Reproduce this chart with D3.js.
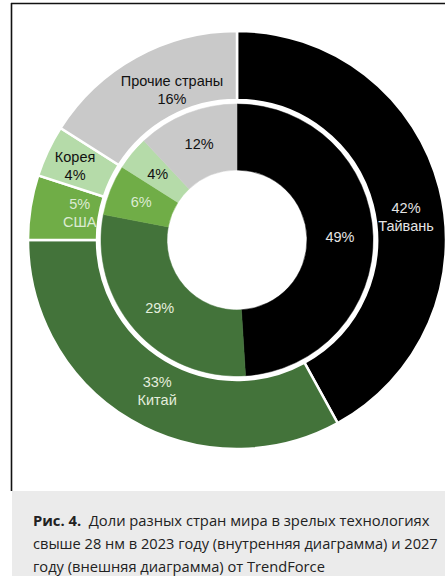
<!DOCTYPE html>
<meta charset="utf-8">
<style>
body { margin: 0; background: #fff; }
svg text { font-family: "Liberation Sans", Arial, sans-serif; }
.caption text { font-family: "Open Sans", "Noto Sans", sans-serif; fill: #222; }
</style>
<svg width="445" height="576"></svg>
<script src="https://d3js.org/d3.v7.min.js"></script>
<script>

var countries = ["Тайвань", "Китай", "США", "Корея", "Прочие страны"];
var share2023 = [49, 29, 6, 4, 12];   // inner ring
var share2027 = [42, 33, 5, 4, 16];   // outer ring
var captionLines = [
  ["Рис. 4.", "\u00a0\u00a0Доли разных стран мира в зрелых технологиях"],
  ["", "свыше 28 нм в 2023 году (внутренняя диаграмма) и 2027"],
  ["", "году (внешняя диаграмма) от TrendForce"]
];

var svg = d3.select("svg"),
    width = +svg.attr("width"),
    height = +svg.attr("height");

var cx = 237, cy = 240;

var color = d3.scaleOrdinal()
    .domain(countries)
    .range(["#000000", "#43733a", "#70ad47", "#b5dba9", "#c9c9c9"]);

var textColor = d3.scaleOrdinal()
    .domain(countries)
    .range(["#e4e4e4", "#e4eedd", "#dcebd3", "#111111", "#111111"]);

// frame
svg.append("line")
    .attr("x1", 11.5).attr("y1", 3).attr("x2", 11.5).attr("y2", 491)
    .attr("stroke", "#111").attr("stroke-width", 1.6);
svg.append("line")
    .attr("x1", 11).attr("y1", 3.5).attr("x2", width).attr("y2", 3.5)
    .attr("stroke", "#111").attr("stroke-width", 1.6);

var pie = d3.pie().sort(null).value(function(d) { return d; });

var innerArc = d3.arc().innerRadius(70).outerRadius(136);
var outerArc = d3.arc().innerRadius(140).outerRadius(209);

var g = svg.append("g").attr("transform", "translate(" + cx + "," + cy + ")");

var innerData = pie(share2023);
var outerData = pie(share2027);

g.append("g").selectAll("path")
    .data(innerData)
  .enter().append("path")
    .attr("d", innerArc)
    .attr("fill", function(d, i) { return color(countries[i]); })
    .attr("stroke", function(d, i) { return color(countries[i]); })
    .attr("stroke-width", 0.5);

g.append("g").selectAll("path")
    .data(outerData)
  .enter().append("path")
    .attr("d", outerArc)
    .attr("fill", function(d, i) { return color(countries[i]); })
    .attr("stroke", "#fff")
    .attr("stroke-width", 2.5);

// inner labels: percent only
g.append("g").selectAll("text")
    .data(innerData)
  .enter().append("text")
    .attr("transform", function(d) { return "translate(" + innerArc.centroid(d) + ")"; })
    .attr("text-anchor", "middle")
    .attr("dy", "0.35em")
    .attr("font-size", "14.5px")
    .attr("fill", function(d, i) { return textColor(countries[i]); })
    .text(function(d) { return d.data + "%"; });

// outer labels: two lines, name above for small slices on the left
var nudge = [[0, 20], [9, 1], [15, 0], [-4, 0], [19, 3]];
var nameFirst = [false, false, false, true, true];

var outerLabels = g.append("g").selectAll("text")
    .data(outerData)
  .enter().append("text")
    .attr("transform", function(d, i) {
      var c = outerArc.centroid(d);
      return "translate(" + (c[0] + nudge[i][0]) + "," + (c[1] + nudge[i][1]) + ")";
    })
    .attr("text-anchor", "middle")
    .attr("font-size", "14.5px")
    .attr("fill", function(d, i) { return textColor(countries[i]); });

outerLabels.each(function(d, i) {
  var lines = [d.data + "%", countries[i]];
  if (nameFirst[i]) lines.reverse();
  var t = d3.select(this);
  t.append("tspan").attr("x", 0).attr("y", -4).text(lines[0]);
  t.append("tspan").attr("x", 0).attr("y", 14).text(lines[1]);
});

// caption: each line squeezed horizontally to the narrow face of the original
var cap = svg.append("g").attr("class", "caption");
cap.append("rect")
    .attr("x", 12).attr("y", 491)
    .attr("width", width - 12).attr("height", height - 491)
    .attr("fill", "#ebebeb");

var capWidths = [397, 405, 292];
captionLines.forEach(function(l, i) {
  var row = cap.append("g");
  var t = row.append("text")
      .attr("x", 0)
      .attr("y", 0)
      .attr("font-size", "15px");
  if (l[0]) t.append("tspan").attr("font-weight", "bold").text(l[0]);
  t.append("tspan").text(l[1]);
  var w = t.node().getComputedTextLength();
  var k = Math.min(1, capWidths[i] / w);
  row.attr("transform", "translate(33," + (526 + i * 23) + ") scale(" + k + ",1)");
});

</script>
